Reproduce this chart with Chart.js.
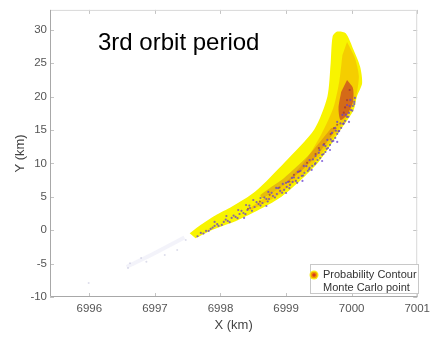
<!DOCTYPE html>
<html><head><meta charset="utf-8">
<script src="https://cdn.jsdelivr.net/npm/chart.js@4"></script>
<style>html,body{margin:0;padding:0;background:#fff;}#wrap{width:435px;height:337px;}</style>
</head><body><div id="wrap"><canvas id="c" width="435" height="337"></canvas></div>
<script>
// ---- data ----
const titleText = "3rd orbit period";
const xTitle = "X (km)";
const yTitle = "Y (km)";
const xTicks = [6996, 6997, 6998, 6999, 7000, 7001];
const yTicks = [-10, -5, 0, 5, 10, 15, 20, 25, 30];
const legendLabels = ["Probability Contour", "Monte Carlo point"];

// outer probability contour (yellow)
const yellowX = [6997.53, 6997.67, 6997.92, 6998.17, 6998.53, 6998.98, 6999.43, 6999.63, 6999.68, 6999.71, 6999.78, 6999.91, 7000.03, 7000.13, 7000.16, 7000.08, 7000.03, 6999.83, 6999.48, 6998.93, 6998.27, 6997.87, 6997.62];
const yellowY = [-0.46, 0.6, 2.2, 3.5, 5.8, 10.2, 15.1, 20.0, 25.0, 29.0, 29.75, 29.5, 27.0, 24.5, 22.0, 20.0, 18.0, 15.0, 10.03, 5.03, 1.54, 0.04, -1.21];
// middle contour (orange)
const orangeX = [6999.93, 7000.05, 7000.11, 7000.07, 6999.99, 6999.80, 6999.45, 6998.91, 6998.43, 6998.49, 6998.94, 6999.30, 6999.54, 6999.72, 6999.81, 6999.86];
const orangeY = [28.2, 25.8, 23.1, 20.1, 18.0, 15.0, 10.37, 5.43, 2.88, 3.63, 6.63, 10.52, 14.42, 18.31, 22.21, 26.25];
// inner contour streak (red)
const redStreakX = [6999.78, 6999.45, 6999.03, 6998.65, 6998.61, 6998.97, 6999.36, 6999.69];
const redStreakY = [15.32, 10.97, 7.23, 4.83, 5.28, 7.83, 11.42, 15.32];
const redCoreX = [6999.93, 7000.02, 7000.02, 6999.93, 6999.83, 6999.80, 6999.84];
const redCoreY = [22.51, 21.31, 19.21, 17.27, 16.52, 18.31, 20.71];
// dark speckles inside the contour
const speckX = [6998.60, 6998.75, 6998.90, 6999.05, 6999.20, 6999.32, 6999.45, 6999.58, 6999.68, 6999.78, 6999.88, 6999.93, 6999.97, 6998.42, 6999.12, 6999.50, 6999.73, 6999.90];
const speckY = [4.3, 5.3, 6.4, 7.3, 8.8, 10.1, 11.4, 12.9, 14.4, 15.8, 17.6, 19.5, 21.0, 3.2, 8.3, 12.3, 15.3, 18.4];
// faint tail
const smearX = [6997.45, 6997.0, 6996.57];
const smearY = [-1.1, -3.4, -5.5];
const tailX = [6997.47, 6997.34, 6997.15, 6996.87, 6996.79, 6996.62, 6996.59, 6995.99];
const tailY = [-1.46, -2.96, -3.71, -4.71, -4.16, -4.95, -5.66, -7.9];
// Monte Carlo points
const mcX = [6997.70, 6997.78, 6997.85, 6997.91, 6997.97, 6998.05, 6998.11, 6998.17, 6998.23, 6998.29, 6998.35, 6998.41, 6998.45, 6998.52, 6998.58, 6998.64, 6998.70, 6998.74, 6998.80, 6998.86, 6998.91, 6998.97, 6999.01, 6999.06, 6999.10, 6999.15, 6999.19, 6999.24, 6999.28, 6999.33, 6999.36, 6999.40, 6999.45, 6999.48, 6999.52, 6999.57, 6999.60, 6999.64, 6999.67, 6999.72, 6999.75, 6999.78, 6999.81, 6999.84, 6999.87, 6999.90, 6999.93, 6999.96, 6999.99, 7000.02, 7000.04, 7000.05,
  6998.27, 6998.50, 6998.73, 6998.95, 6999.18, 6999.36, 6999.51, 6999.63, 6999.75, 6999.86, 6999.93, 6998.09, 6998.61, 6999.09, 6999.45, 6999.70, 6998.39, 6998.85, 6999.27, 6999.57, 6999.78, 6999.98, 6997.91, 6999.03, 6999.39,
  6999.00, 6999.25, 6999.55, 6999.78, 6999.96, 6998.36, 6998.70, 6999.67,
  6997.65, 6997.74, 6997.82, 6997.88, 6997.95, 6998.02, 6998.08, 6998.14, 6998.20, 6998.26, 6998.32, 6998.38, 6998.44, 6998.48, 6998.55, 6998.61, 6998.67, 6998.72, 6998.78, 6998.83, 6998.88, 6998.94, 6999.00, 6999.05, 6999.12, 6999.17, 6999.22, 6999.26, 6999.31, 6999.35, 6999.41, 6999.44, 6999.50, 6999.55, 6999.60, 6999.62, 6999.68, 6999.70, 6999.76, 6999.80, 6999.83, 6999.88, 6999.91, 6999.95, 6999.97, 7000.01, 7000.04];
const mcY = [-0.41, -0.11, 0.19, 0.64, 0.64, 1.24, 1.39, 1.84, 1.99, 2.43, 2.58, 3.03, 3.33, 3.48, 3.93, 4.08, 4.68, 4.68, 5.13, 5.43, 5.88, 6.03, 6.48, 6.78, 7.23, 7.38, 7.83, 8.13, 8.58, 8.88, 9.33, 9.63, 10.07, 10.52, 10.82, 11.42, 11.72, 12.32, 12.77, 13.37, 13.82, 14.42, 14.87, 15.32, 15.92, 16.37, 16.97, 17.57, 18.01, 18.61, 19.21, 19.81,
  3.03, 4.53, 5.73, 6.93, 8.73, 10.52, 12.02, 13.52, 15.32, 17.27, 18.76, 2.13, 4.83, 7.83, 11.12, 14.57, 3.78, 6.33, 9.63, 12.77, 16.22, 19.51, 1.24, 7.23, 9.03,
  5.58, 7.38, 10.37, 13.22, 16.22, 1.84, 3.63, 12.02,
  -0.9, -0.5, -0.1, 0.4, 0.9, 0.8, 1.6, 1.2, 2.2, 1.8, 2.9, 2.4, 3.7, 2.9, 4.2, 3.7, 4.9, 4.3, 5.6, 4.9, 6.3, 5.6, 7.1, 6.3, 7.9, 7.1, 8.9, 8.2, 9.6, 9.1, 10.6, 9.9, 11.6, 11.3, 12.6, 12.2, 13.6, 13.3, 14.9, 14.8, 16.0, 16.0, 17.3, 17.0, 18.6, 17.9, 18.9];

// ---- chart ----
const pts = (xs, ys) => xs.map((x, i) => ({x: x, y: ys[i]}));
const FONT = '"Liberation Sans", Arial, Helvetica, sans-serif';
Chart.defaults.font.family = FONT;

function shape(data, color, order) {
  return {data: data, indexAxis: 'y', showLine: true, fill: 'shape', backgroundColor: color,
    borderColor: 'rgba(0,0,0,0)', borderWidth: 0, pointRadius: 0, tension: 0.25, order: order};
}
function dots(data, color, r, order) {
  return {data: data, showLine: false, pointRadius: r, pointBorderWidth: 0, pointBackgroundColor: color, backgroundColor: color, order: order};
}

const frame = {
  id: 'frame',
  afterDatasetsDraw(chart) {
    const {ctx, chartArea: a, scales: {x, y}} = chart;
    ctx.save();
    ctx.lineWidth = 1;
    ctx.strokeStyle = '#c4c4c4';
    ctx.beginPath();
    x.ticks.forEach(t => {
      const p = Math.round(x.getPixelForValue(t.value)) + 0.5;
      ctx.moveTo(p, a.bottom); ctx.lineTo(p, a.bottom - 4);
      ctx.moveTo(p, a.top); ctx.lineTo(p, a.top + 4);
    });
    y.ticks.forEach(t => {
      const p = Math.round(y.getPixelForValue(t.value)) + 0.5;
      ctx.moveTo(a.left, p); ctx.lineTo(a.left + 4, p);
      ctx.moveTo(a.right, p); ctx.lineTo(a.right - 4, p);
    });
    ctx.stroke();
    ctx.strokeStyle = '#d8d8d8';
    ctx.beginPath();
    ctx.moveTo(a.left, a.top + 0.5); ctx.lineTo(a.right - 0.5, a.top + 0.5); ctx.lineTo(a.right - 0.5, a.bottom);
    ctx.stroke();
    ctx.strokeStyle = '#a8a8a8';
    ctx.beginPath();
    ctx.moveTo(a.left + 0.5, a.top); ctx.lineTo(a.left + 0.5, a.bottom - 0.5); ctx.lineTo(a.right, a.bottom - 0.5);
    ctx.stroke();
    // title inside the axes
    ctx.fillStyle = '#000';
    ctx.font = '24px ' + FONT;
    ctx.textBaseline = 'alphabetic';
    ctx.textAlign = 'left';
    ctx.fillText(titleText, 98, 50);
    // legend box
    ctx.fillStyle = '#fff';
    ctx.fillRect(310, 264, 108, 29);
    ctx.strokeStyle = '#c8c8c8';
    ctx.strokeRect(310.5, 264.5, 108, 29);
    ctx.beginPath(); ctx.fillStyle = 'rgba(248,236,0,0.9)'; ctx.arc(314, 275, 4.5, 0, Math.PI * 2); ctx.fill();
    ctx.beginPath(); ctx.fillStyle = '#f0a000'; ctx.arc(314, 275, 3.3, 0, Math.PI * 2); ctx.fill();
    ctx.beginPath(); ctx.fillStyle = '#d83a20'; ctx.arc(314, 275, 1.8, 0, Math.PI * 2); ctx.fill();
    ctx.fillStyle = '#333';
    ctx.font = '11px ' + FONT;
    ctx.textBaseline = 'middle';
    ctx.fillText(legendLabels[0], 323, 275);
    ctx.fillText(legendLabels[1], 323, 288);
    ctx.restore();
  }
};

new Chart(document.getElementById('c'), {
  type: 'line',
  data: {
    datasets: [
      {data: pts(smearX, smearY), showLine: true, borderColor: 'rgba(215,215,240,0.3)', borderWidth: 4, pointRadius: 0, tension: 0.3, order: 10, fill: false},
      dots(pts(tailX, tailY), 'rgba(180,180,210,0.45)', 1, 9),
      shape(pts(yellowX, yellowY), '#f8f400', 7),
      shape(pts(orangeX, orangeY), 'rgba(240,150,0,0.4)', 6),
      shape(pts(redStreakX, redStreakY), 'rgba(190,60,40,0.3)', 5),
      shape(pts(redCoreX, redCoreY), 'rgba(190,40,40,0.6)', 4),
      dots(pts(speckX, speckY), 'rgba(150,40,60,0.65)', 1.1, 3),
      dots(pts(mcX, mcY), 'rgba(100,60,210,0.75)', 1.1, 1)
    ]
  },
  options: {
    responsive: false,
    devicePixelRatio: 1,
    animation: false,
    events: [],
    layout: {padding: {left: 0, right: 14, top: 9, bottom: 0}},
    plugins: {legend: {display: false}, tooltip: {enabled: false}, title: {display: false}},
    scales: {
      x: {
        type: 'linear', min: 6995.4, max: 7001,
        afterBuildTicks: s => { s.ticks = xTicks.map(v => ({value: v})); },
        afterFit: s => { s.height = 40; },
        grid: {display: false, drawTicks: false},
        border: {display: false},
        ticks: {padding: 5, color: '#555', font: {size: 11.5}, callback: v => String(v), maxRotation: 0, autoSkip: false},
        title: {display: true, text: xTitle, color: '#444', font: {size: 13}, padding: {top: 0, bottom: 4}}
      },
      y: {
        type: 'linear', min: -10, max: 33,
        afterBuildTicks: s => { s.ticks = yTicks.map(v => ({value: v})); },
        afterFit: s => { s.width = 50; },
        grid: {display: false, drawTicks: false},
        border: {display: false},
        ticks: {padding: 3, color: '#555', font: {size: 11.5}, callback: v => String(v), autoSkip: false},
        title: {display: true, text: yTitle, color: '#444', font: {size: 13}, padding: {top: 13, bottom: 0}}
      }
    }
  },
  plugins: [frame]
});
</script></body></html>
